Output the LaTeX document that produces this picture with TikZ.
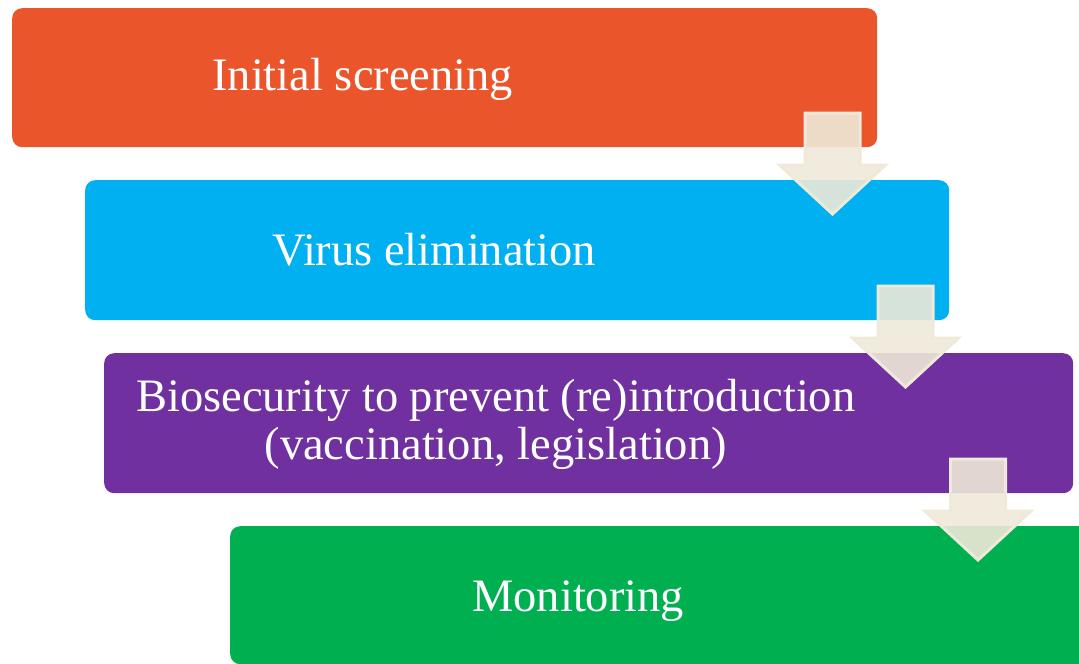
\documentclass[tikz,border=0pt]{standalone}
\usepackage{fontspec}
\setmainfont{Liberation Serif}
\usetikzlibrary{positioning}
\definecolor{stepOrange}{RGB}{234,85,43}
\definecolor{stepBlue}{RGB}{0,176,240}
\definecolor{stepPurple}{RGB}{112,48,160}
\definecolor{stepGreen}{RGB}{0,176,80}
\definecolor{arrowBeige}{RGB}{238,233,216}

\tikzset{
  stepbox/.style={rectangle, rounded corners=10pt, inner sep=0pt, anchor=north west},
  steptext/.style={text=white, align=center, font=\fontsize{46.5}{48}\selectfont},
  flowarrow/.style={fill=arrowBeige, fill opacity=0.9, draw=arrowBeige, line width=3pt, line join=miter}
}

\begin{document}
\begin{tikzpicture}[x=1pt,y=-1pt]
\useasboundingbox (0,0) rectangle (1079,664);

%the four steps
\node[stepbox, fill=stepOrange, minimum width=865pt, minimum height=139pt] (screen) at (12,8) {};
\node[stepbox, fill=stepBlue, minimum width=864pt, minimum height=140pt] (elim) at (85,180) {};
\node[stepbox, fill=stepPurple, minimum width=969pt, minimum height=140pt] (biosec) at (104,353) {};
\node[stepbox, fill=stepGreen, minimum width=862pt, minimum height=138pt] (monitor) at (230,526) {};

%labels, a bit left of the box centre
\node[steptext] (screentxt) at ([xshift=-82pt,yshift=-2pt]screen.center) {Initial screening};
\node[steptext] (elimtxt) at ([xshift=-83pt]elim.center) {Virus elimination};
\node[steptext] (biosectxt) at ([xshift=-93pt,yshift=-1pt]biosec.center) {Biosecurity to prevent (re)introduction\\(vaccination, legislation)};
\node[steptext] (monitortxt) at ([xshift=-83pt,yshift=-6pt]monitor.center) {Monitoring};

%down arrows between the steps
\foreach \cx/\ty in {832.5/113, 905.5/286, 978/459}
  \filldraw[flowarrow] (\cx-27.5,\ty) -- (\cx+27.5,\ty) -- (\cx+27.5,\ty+52) -- (\cx+53,\ty+52)
    -- (\cx,\ty+101) -- (\cx-53,\ty+52) -- (\cx-27.5,\ty+52) -- cycle;
\end{tikzpicture}
\end{document}
